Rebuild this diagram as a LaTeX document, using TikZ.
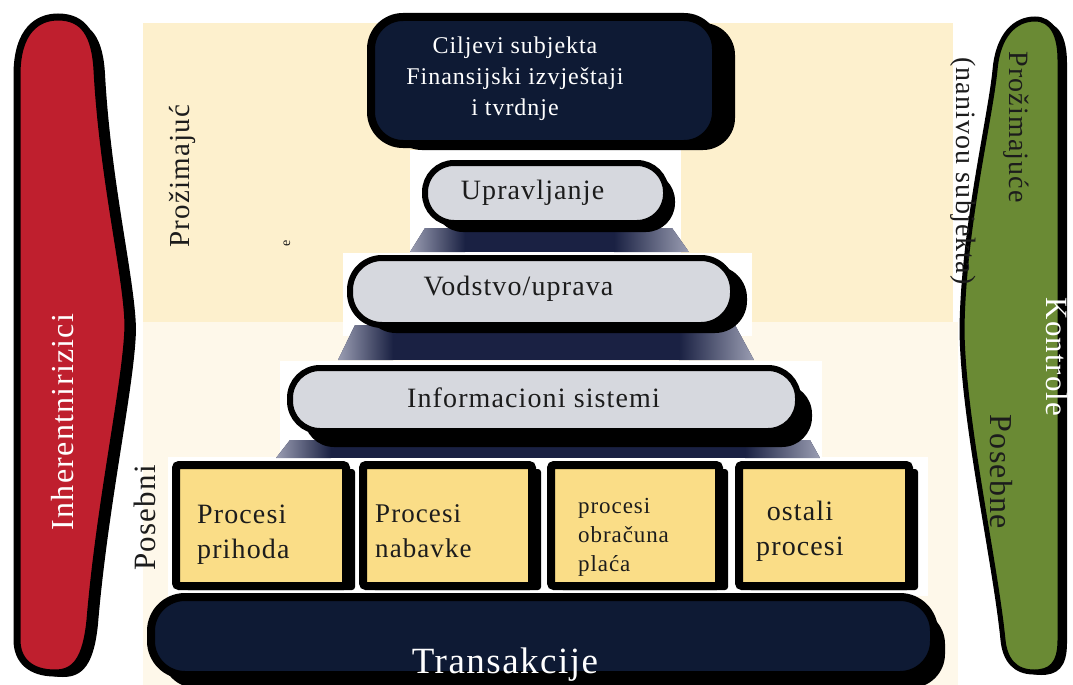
\documentclass[tikz,border=0pt]{standalone}
\usepackage{fontspec}
\setmainfont{Liberation Serif}[LetterSpace=4]
\usetikzlibrary{shadows}

\definecolor{panel}{HTML}{FDF0CD}
\definecolor{panellow}{HTML}{FEF8EA}
\definecolor{riskred}{HTML}{BF1F2E}
\definecolor{ctrlgreen}{HTML}{6A8A34}
\definecolor{navy}{HTML}{0E1A34}
\definecolor{pillgrey}{HTML}{D6D8DE}
\definecolor{procyellow}{HTML}{FADD87}
\definecolor{ink}{HTML}{1C1C1C}
\definecolor{stepedge}{HTML}{9A9DB2}
\definecolor{stepcore}{HTML}{1A2143}

\newcommand\fsz[2]{\fontsize{#1}{#2}\selectfont}

% step between two levels: navy trapezoid fading to grey at both ends
% #1 top-left x, #2 top-right x, #3 bottom-right x, #4 bottom-left x, #5 top y, #6 bottom y
\newcommand\levelstep[6]{%
  \begin{scope}
    \clip (#1,#5) -- (#2,#5) -- (#3,#6) -- (#4,#6) -- cycle;
    \fill[stepcore] (#4,#5) rectangle (#3,#6);
    \shade[left color=stepedge, right color=stepcore] (#4,#5) rectangle ({#4+55},#6);
    \shade[left color=stepcore, right color=stepedge] ({#3-75},#5) rectangle (#3,#6);
  \end{scope}}

% left arrow-like band for inherent risks
\newcommand\riskshape[1]{\path[#1] (17,640) -- (17,75)
  .. controls (17,30) and (38,17) .. (58,17)
  .. controls (84,17) and (95,35) .. (97,70)
  .. controls (103,180) and (127,275) .. (128,325)
  .. controls (127,380) and (100,500) .. (90,620)
  .. controls (86,660) and (75,673) .. (55,673)
  .. controls (30,673) and (17,660) .. (17,640) -- cycle;}

% right band for controls
\newcommand\ctrlshape[1]{\path[#1] (1060,60) -- (1060,640)
  .. controls (1060,665) and (1050,672) .. (1034,672)
  .. controls (1015,672) and (1005,660) .. (1003,640)
  .. controls (995,560) and (963,420) .. (962,330)
  .. controls (963,230) and (990,120) .. (995,70)
  .. controls (998,35) and (1015,19) .. (1035,19)
  .. controls (1052,19) and (1060,35) .. (1060,60) -- cycle;}

\tikzset{
  boxshadow/.style 2 args={drop shadow={shadow xshift=#1pt, shadow yshift=-#2pt, fill=black, opacity=1}},
  topbox/.style={draw=black, line width=8pt, fill=navy, rounded corners=32pt, inner sep=0pt},
  pill/.style={draw=black, line width=6pt, fill=pillgrey, rounded corners=29pt, inner sep=0pt},
  procbox/.style={draw=black, line width=8pt, fill=procyellow, rounded corners=3pt, inner sep=0pt,
    minimum height=121pt, boxshadow={9}{4}},
  bar/.style={draw=black, line width=8pt, fill=navy, rounded corners=34pt, inner sep=0pt},
  lbl/.style={inner sep=0pt, text=ink},
}

\begin{document}
\begin{tikzpicture}[x=1pt,y=-1pt]
\useasboundingbox (0,0) rectangle (1073,685);
\fill[white] (0,0) rectangle (1073,685);

% background panels
\fill[panel] (143,23) rectangle (953,322);
\fill[panellow] (143,322) rectangle (958,685);
\fill[white] (410,150) rectangle (681,253);
\fill[white] (343,253) rectangle (752,336);
\fill[white] (280,361) rectangle (822,457);
\fill[white] (168,457) rectangle (928,596);

% shaded steps between the levels
\levelstep{425}{672}{689}{410}{228}{252}
\levelstep{355}{735}{754}{338}{325}{360}
\levelstep{290}{810}{820}{276}{440}{458}

% levels of the pyramid
\node[topbox, minimum width=345pt, minimum height=127pt, boxshadow={19}{6}] (goal) at (543.5,80.5) {};
\node[pill, minimum width=241pt, minimum height=60pt, boxshadow={9}{9}] (up) at (545.5,193) {};
\node[pill, rounded corners=32pt, minimum width=383pt, minimum height=67pt, boxshadow={14}{8}] (vod) at (541.5,291.5) {};
\node[pill, rounded corners=30pt, minimum width=508pt, minimum height=63pt, boxshadow={14}{16}] (info) at (544,399.5) {};

\node[procbox, minimum width=170pt] (p1) at (261,525.5) {};
\node[procbox, minimum width=169pt] (p2) at (447.5,525.5) {};
\node[procbox, minimum width=168pt] (p3) at (635,525.5) {};
\node[procbox, minimum width=170pt] (p4) at (824,525.5) {};

\node[bar, minimum width=783pt, minimum height=78pt, boxshadow={11}{13}] (trans) at (542.5,636) {};

% side bands
\riskshape{fill=black, shift={(8,4)}}
\riskshape{fill=riskred, draw=black, line width=7pt}
\ctrlshape{fill=black, shift={(7,3)}}
\ctrlshape{fill=ctrlgreen, draw=black, line width=5pt}

% labels
\node[lbl, text=white, font=\fsz{24}{31}, align=center] (goaltxt) at (515,79)
  {Ciljevi subjekta\\Finansijski izvještaji\\i tvrdnje};
\node[lbl, font=\fsz{28}{34}] (uptxt) at (532.5,193) {Upravljanje};
\node[lbl, font=\fsz{28}{34}] (vodtxt) at (518.5,289) {Vodstvo/uprava};
\node[lbl, font=\fsz{28}{34}] (infotxt) at (533.5,398) {Informacioni sistemi};

\node[lbl, font=\fsz{28}{35}, align=left, anchor=west] (p1txt) at (197,535) {Procesi\\prihoda};
\node[lbl, font=\fsz{27}{35}, align=left, anchor=west] (p2txt) at (375,531) {Procesi\\nabavke};
\node[lbl, font=\fsz{23}{29}, align=left, anchor=west] (p3txt) at (578,537) {procesi\\obračuna\\plaća};
\node[lbl, font=\fsz{28}{35}, align=center] (p4txt) at (800,531) {ostali\\procesi};

\node[lbl, text=white, font=\fsz{37}{44}, anchor=base] (transtxt) at (505,673) {Transakcije};

\node[lbl, text=white, font=\fsz{32}{38}, rotate=90] (risktxt) at (63,422) {Inherentnirizici};
\node[lbl, font=\fsz{29}{34}, rotate=90] (perv1) at (182,176) {Prožimajuć};
\node[lbl, font=\fsz{14}{16}, rotate=90] (perv2) at (287,243) {e};
\node[lbl, font=\fsz{31}{36}, rotate=90] (spec1) at (145,518) {Posebni};

\node[lbl, font=\fsz{28}{34}, rotate=-90] (perv3) at (1016,127) {Prožimajuće};
\node[lbl, font=\fsz{28}{34}, rotate=-90] (level) at (963,171) {(nanivou subjekta)};
\node[lbl, text=white, font=\fsz{31}{36}, rotate=-90] (ctrltxt) at (1057,357) {Kontrole};
\node[lbl, font=\fsz{32}{38}, rotate=-90] (spec2) at (1001,472) {Posebne};
\end{tikzpicture}
\end{document}
